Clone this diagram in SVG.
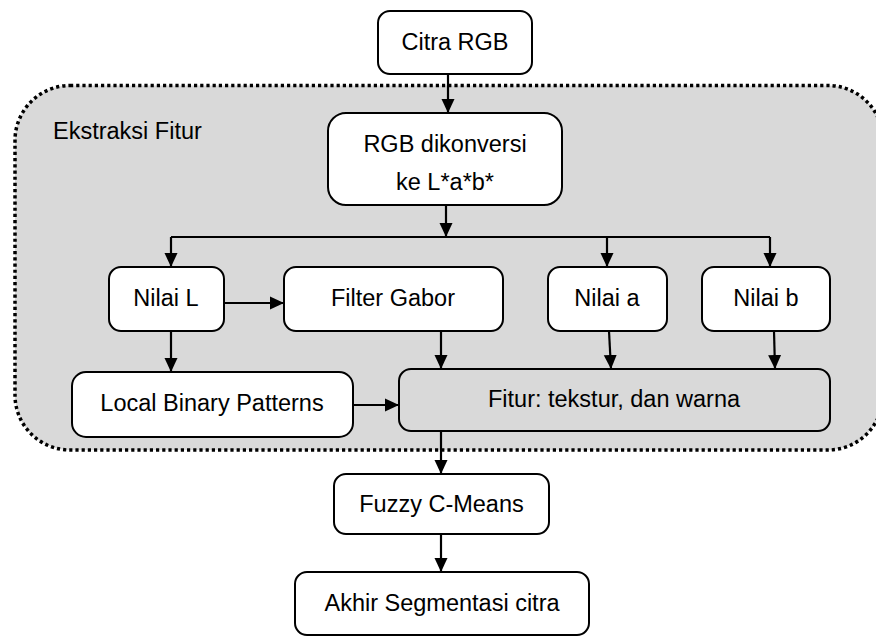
<svg xmlns="http://www.w3.org/2000/svg" width="876" height="637" viewBox="0 0 876 637">
<style>
.box{fill:#ffffff;stroke:#000000;stroke-width:2}
.gbox{fill:#d9d9d9;stroke:#000000;stroke-width:2}
.t{font-family:"Liberation Sans",Arial,sans-serif;font-size:23.5px;fill:#000000;text-anchor:middle}
.c{fill:none;stroke:#000000;stroke-width:2.2}
</style>
<defs>
<marker id="ah" viewBox="0 0 14 14" refX="14" refY="7" markerWidth="14" markerHeight="14" markerUnits="userSpaceOnUse" orient="auto">
<path d="M0,0.5 L14,7 L0,13.5 Z" fill="#000000"/>
</marker>
</defs>
<g id="container">
<rect x="15" y="85.5" width="868" height="364.5" rx="55" ry="55" fill="#d9d9d9" stroke="#000000" stroke-width="3.5" stroke-dasharray="3.2 3"/>
<text x="53" y="139" class="t" style="text-anchor:start">Ekstraksi Fitur</text>
</g>
<g id="citra"><rect class="box" x="378" y="11" width="154" height="63" rx="12"/><text class="t" x="455" y="50">Citra RGB</text></g>
<g id="konversi"><rect class="box" x="328" y="113" width="234" height="92" rx="18"/><text class="t" x="445" y="152">RGB dikonversi</text><text class="t" x="445" y="190">ke L*a*b*</text></g>
<g id="nilaiL"><rect class="box" x="109" y="267" width="115" height="64" rx="12"/><text class="t" x="166" y="306">Nilai L</text></g>
<g id="gabor"><rect class="box" x="284" y="267" width="219" height="64" rx="12"/><text class="t" x="393" y="306">Filter Gabor</text></g>
<g id="nilaiA"><rect class="box" x="548" y="267" width="119" height="64" rx="12"/><text class="t" x="607" y="306">Nilai a</text></g>
<g id="nilaiB"><rect class="box" x="702" y="267" width="128" height="64" rx="12"/><text class="t" x="766" y="306">Nilai b</text></g>
<g id="lbp"><rect class="box" x="72" y="372" width="281" height="65" rx="14"/><text class="t" x="212" y="411">Local Binary Patterns</text></g>
<g id="fitur"><rect class="gbox" x="399" y="369" width="431" height="62" rx="12"/><text class="t" x="614" y="407">Fitur: tekstur, dan warna</text></g>
<g id="fcm"><rect class="box" x="334" y="474" width="215" height="60" rx="12"/><text class="t" x="441.5" y="512">Fuzzy C-Means</text></g>
<g id="akhir"><rect class="box" x="295" y="572" width="294" height="63" rx="12"/><text class="t" x="442" y="611">Akhir Segmentasi citra</text></g>
<g id="connectors">
<path class="c" d="M448,74 L448,113" marker-end="url(#ah)"/>
<path class="c" d="M446,205 L446,237" marker-end="url(#ah)"/>
<path class="c" d="M171,237 L770,237"/>
<path class="c" d="M171,237 L171,267" marker-end="url(#ah)"/>
<path class="c" d="M607,237 L607,267" marker-end="url(#ah)"/>
<path class="c" d="M770,237 L770,267" marker-end="url(#ah)"/>
<path class="c" d="M224,303 L284,303" marker-end="url(#ah)"/>
<path class="c" d="M171,331 L171,372" marker-end="url(#ah)"/>
<path class="c" d="M353,405 L399,405" marker-end="url(#ah)"/>
<path class="c" d="M441,331 L441,369" marker-end="url(#ah)"/>
<path class="c" d="M609,331 L611,369" marker-end="url(#ah)"/>
<path class="c" d="M774,331 L775,369" marker-end="url(#ah)"/>
<path class="c" d="M441,431 L441,474" marker-end="url(#ah)"/>
<path class="c" d="M441,534 L441,572" marker-end="url(#ah)"/>
</g>
</svg>
